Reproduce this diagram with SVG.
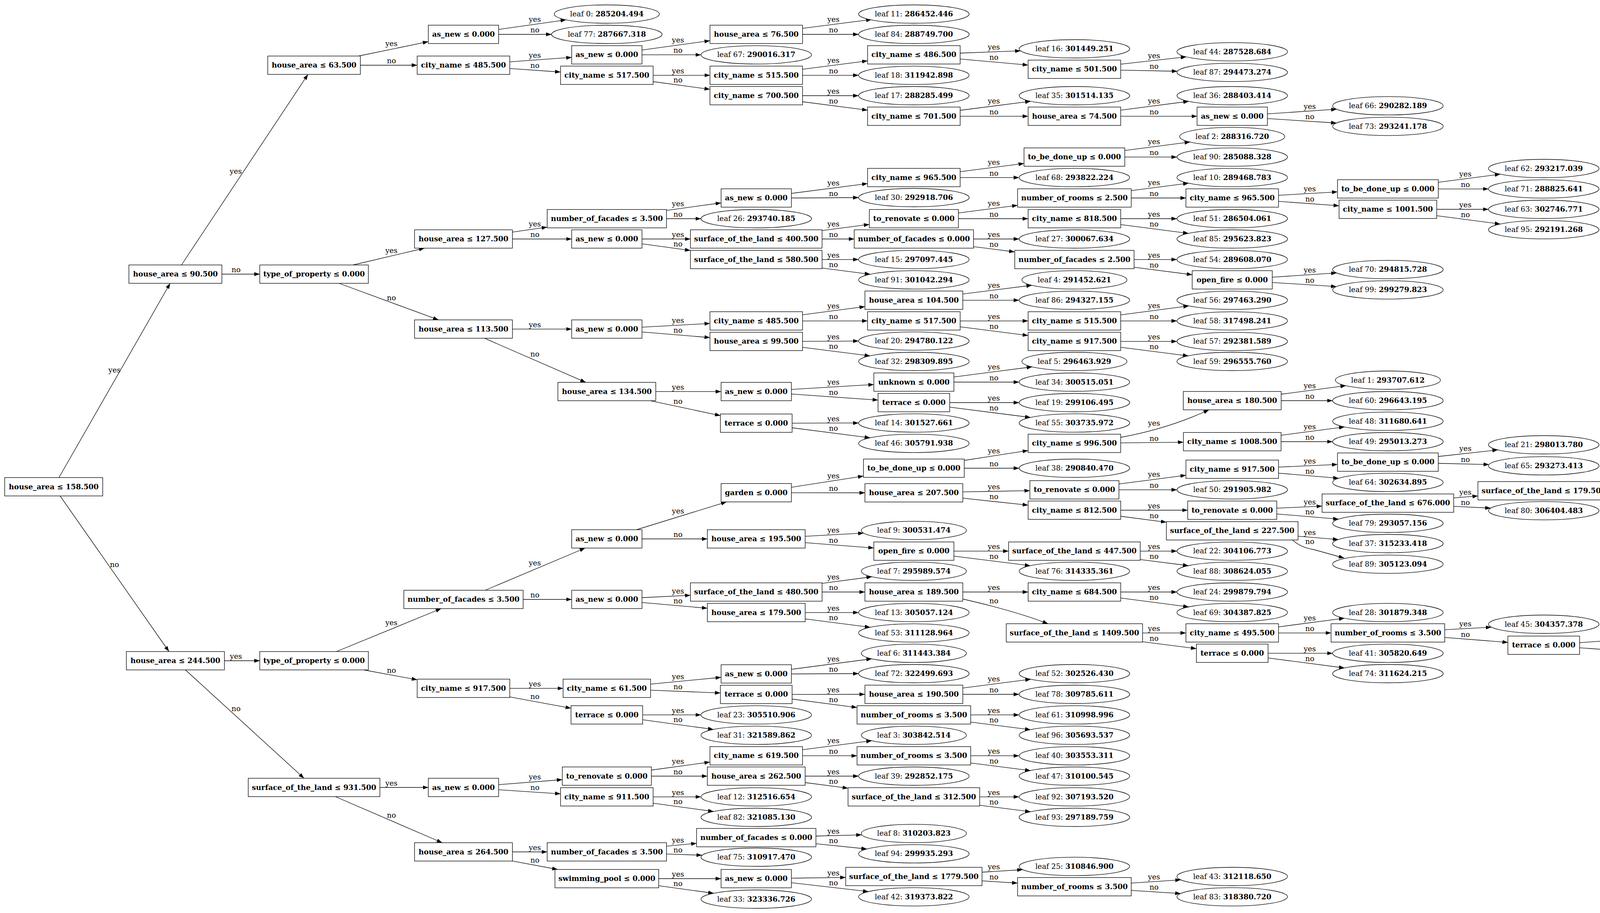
<svg xmlns="http://www.w3.org/2000/svg" width="4478" height="2338" viewBox="0 0 4478 2338">
<style>
.bx rect,.lf ellipse{fill:#fff;stroke:#000;stroke-width:1.33}
.bx text,.lf text,#edge-labels text{text-anchor:middle;font-family:"DejaVu Serif","Liberation Serif",serif;font-size:18.67px}
.bx text{font-weight:bold}
.lf tspan{font-weight:bold}
#edges path{fill:none;stroke:#000;stroke-width:1.33;marker-end:url(#ah)}
</style>
<defs>
<marker id="ah" markerUnits="userSpaceOnUse" markerWidth="14" markerHeight="10" viewBox="0 0 14 10" refX="14" refY="5" orient="auto"><path d="M0,0L14,5L0,10z" fill="#000"/></marker>
</defs>
<rect width="4478" height="2338" fill="#fff"/>
<g id="edges">
<path d="M150.9 1223L435.6 725.5"/>
<path d="M153.9 1270L432.6 1668.5"/>
<path d="M464.6 678.5L788.4 190.5"/>
<path d="M568 702L665 702"/>
<path d="M574.5 1692L665 1692"/>
<path d="M474.7 1715.5L778.3 1993"/>
<path d="M917.8 143.5L1096.5 106.6"/>
<path d="M922.5 167L1068 167"/>
<path d="M1276.5 75.3L1449 50.8"/>
<path d="M1276.5 88L1412 88"/>
<path d="M1305 158.4L1463.5 146.9"/>
<path d="M1305 175.3L1435 184.5"/>
<path d="M1643.5 128.1L1817.5 104.2"/>
<path d="M1643.5 140.4L1794.5 140.4"/>
<path d="M1672 192.8L1817.5 192.8"/>
<path d="M1672 209L1817.5 228.8"/>
<path d="M2054.5 72.7L2231.3 49.9"/>
<path d="M2054.5 88L2198 88"/>
<path d="M2054.5 177.4L2221 155.8"/>
<path d="M2054.5 192.8L2198 192.8"/>
<path d="M2054.5 245L2198 245"/>
<path d="M2054.5 260.5L2221 282.2"/>
<path d="M2458 136L2612.5 130.2"/>
<path d="M2458 151.1L2632 166.7"/>
<path d="M2458 282.5L2638.5 259.4"/>
<path d="M2458 297.7L2632 297.7"/>
<path d="M2869 164.3L3036.8 145.7"/>
<path d="M2869 179.7L3014 182.5"/>
<path d="M2869 282.2L3043.2 259.5"/>
<path d="M2869 297.7L3064.5 297.7"/>
<path d="M3244.5 291.6L3421.9 279.7"/>
<path d="M3244.5 303.6L3421.4 315"/>
<path d="M903.9 678.5L1086.6 635.5"/>
<path d="M867.9 725.5L1122.6 819.2"/>
<path d="M1311.8 594.3L1400.8 581.6"/>
<path d="M1311.8 612L1463.5 612"/>
<path d="M1706.3 538.8L1846 519.5"/>
<path d="M1706.3 560L1794.5 560"/>
<path d="M1643.5 612L1767.5 612"/>
<path d="M1643.5 624.4L1767.5 641.4"/>
<path d="M2026 495.3L2221 470.1"/>
<path d="M2026 507L2198 506"/>
<path d="M2458 439.6L2621.5 418.7"/>
<path d="M2458 454.7L2609 454.7"/>
<path d="M2879.5 385.4L3046.6 363.7"/>
<path d="M2879.5 402.2L3013 402.2"/>
<path d="M2104.5 590.3L2225.5 574.7"/>
<path d="M2104.5 612L2186.8 612"/>
<path d="M2453.5 545.3L2605 525.8"/>
<path d="M2453.5 560L2632 560"/>
<path d="M2896 488.2L3042.9 469.2"/>
<path d="M2896 507L3036 507"/>
<path d="M3273 500.1L3424 491.3"/>
<path d="M3273 515.6L3428 526.9"/>
<path d="M3682 466.9L3840.9 446.1"/>
<path d="M3682 483.8L3810.5 483.8"/>
<path d="M3678 536L3810.5 536"/>
<path d="M3678 552.4L3840.8 573.7"/>
<path d="M2869 560L3013 560"/>
<path d="M2869 575.2L3042.6 597.6"/>
<path d="M2492.3 612L2609 612"/>
<path d="M2492.3 631.6L2597.3 645"/>
<path d="M2903.3 664.6L3013 664.6"/>
<path d="M2903.3 684.3L3052 703.5"/>
<path d="M3257 709.9L3421.8 698.9"/>
<path d="M3257 723.3L3421.4 733.9"/>
<path d="M2104.5 664.6L2198 664.6"/>
<path d="M2104.5 686.4L2227.7 702.3"/>
<path d="M1311.8 842.7L1463.5 842.7"/>
<path d="M1240.4 866.2L1499.6 979.2"/>
<path d="M1643.5 837.8L1817.5 828.3"/>
<path d="M1643.5 850.1L1817.5 864.5"/>
<path d="M2054.5 806.2L2214.3 785.2"/>
<path d="M2054.5 821.8L2221 821.8"/>
<path d="M2464.8 752.9L2641.7 730.5"/>
<path d="M2464.8 768.8L2609 768.8"/>
<path d="M2458 821.8L2632 821.8"/>
<path d="M2458 836.9L2632 859.2"/>
<path d="M2869 806.3L3043.5 783.4"/>
<path d="M2869 821.8L3013 821.8"/>
<path d="M2869 874.3L3013 874.3"/>
<path d="M2869 889.3L3042.2 911.3"/>
<path d="M2054.5 874.2L2198 873.3"/>
<path d="M2054.5 889.3L2227.3 911.3"/>
<path d="M1678.8 1002.7L1846 1002.7"/>
<path d="M1664.5 1026.2L1844.3 1064.3"/>
<path d="M2026 997.3L2237 984.7"/>
<path d="M2026 1009L2247.8 1024.6"/>
<path d="M2442 965.3L2642.3 939.5"/>
<path d="M2442 978.5L2609 978.5"/>
<path d="M2431.3 1031L2609 1031"/>
<path d="M2431.3 1042.7L2638.3 1069"/>
<path d="M2027.8 1083.7L2198 1083.2"/>
<path d="M2027.8 1095.5L2227.5 1121.1"/>
<path d="M861.2 1668.5L1129.3 1558.5"/>
<path d="M931.2 1715.5L1068 1740.8"/>
<path d="M1242.1 1511.5L1497.9 1403.5"/>
<path d="M1339.3 1535L1463.5 1535"/>
<path d="M1629.5 1356.5L1860 1285.3"/>
<path d="M1643.5 1380L1810.8 1380"/>
<path d="M2026 1247.8L2210.5 1219.1"/>
<path d="M2026 1261.8L2214.3 1262"/>
<path d="M2468.5 1179L2632 1153.7"/>
<path d="M2468.5 1199L2609 1199"/>
<path d="M2869 1120Q2990 1098 3095 1049.5"/>
<path d="M2869 1134.1L3029.5 1132.4"/>
<path d="M3279.8 1009.5L3445.6 987.6"/>
<path d="M3279.8 1026L3411.5 1026"/>
<path d="M3279.5 1114.6L3442 1093.3"/>
<path d="M3279.5 1131L3411.5 1131"/>
<path d="M2464.8 1259.7L2636.5 1256.4"/>
<path d="M2464.8 1275.6L2632 1293.7"/>
<path d="M2864.5 1239.4L3036 1217.1"/>
<path d="M2864.5 1254.3L3013 1254.3"/>
<path d="M3273 1196.2L3424 1189.3"/>
<path d="M3273 1211.6L3427 1224.7"/>
<path d="M3682 1169L3834.5 1152.1"/>
<path d="M3682 1186.5L3812 1189.6"/>
<path d="M2869 1306.5L3040.5 1306.5"/>
<path d="M2869 1322L2986 1337.3"/>
<path d="M3268.5 1301.3L3384.5 1296.1"/>
<path d="M3268.5 1316.1L3426.8 1329.4"/>
<path d="M3721.5 1275.1L3783.5 1270.1"/>
<path d="M3721.5 1296.6L3816.2 1301.2"/>
<path d="M4120.5 1244.9L4194.4 1239.6"/>
<path d="M4120.5 1268.7L4194.4 1274"/>
<path d="M3323 1373.1L3426.2 1381.6"/>
<path d="M3309 1383Q3330 1402 3362 1407L3441 1429"/>
<path d="M2061.3 1373.3L2211 1365.2"/>
<path d="M2061.3 1389.7L2237 1403.3"/>
<path d="M2442 1411.3L2582 1411.3"/>
<path d="M2442 1424.1L2637.7 1448.7"/>
<path d="M2919 1411.3L3013 1411.3"/>
<path d="M2919 1432.8L3042.4 1448.5"/>
<path d="M1643.5 1530.5L1767.5 1524.4"/>
<path d="M1643.5 1542.9L1810.8 1557.6"/>
<path d="M2104.5 1493.8L2232.1 1477"/>
<path d="M2104.5 1516L2214.3 1516"/>
<path d="M2464.8 1516L2632 1516"/>
<path d="M2465 1534Q2600 1565 2683 1597.3"/>
<path d="M2869 1516L3013 1516"/>
<path d="M2869 1531.4L3043.1 1554.1"/>
<path d="M2925 1620.8L3036 1620.8"/>
<path d="M2925 1643.3L3062.8 1661.1"/>
<path d="M3273 1605.3L3441.9 1583.2"/>
<path d="M3273 1620.8L3407.5 1620.8"/>
<path d="M3698.5 1612.7L3817.9 1606"/>
<path d="M3698.5 1632.3L3860.3 1645.1"/>
<path d="M4043.8 1645.8L4194.4 1635"/>
<path d="M4043.8 1658.8L4194.4 1669.6"/>
<path d="M3246.3 1672.9L3411.5 1672.9"/>
<path d="M3246.3 1684.9L3441.8 1710.5"/>
<path d="M2061.3 1568.6L2198 1568.6"/>
<path d="M2061.3 1584.8L2227.9 1606.4"/>
<path d="M1305 1762.7L1441.5 1762.7"/>
<path d="M1305 1784.7L1461.8 1813.7"/>
<path d="M1665.5 1751.9L1846 1734.5"/>
<path d="M1665.5 1767.3L1844.3 1774.6"/>
<path d="M2026 1714L2231.9 1687"/>
<path d="M2026 1725.8L2198 1725"/>
<path d="M2027.8 1778.3L2214.3 1778"/>
<path d="M2027.8 1790.2L2194 1811.8"/>
<path d="M2464.8 1761.8L2638.8 1739.4"/>
<path d="M2464.8 1778L2609 1778"/>
<path d="M2485 1830.7L2609 1830.7"/>
<path d="M2485 1849.1L2638.2 1868.6"/>
<path d="M1645.3 1830.7L1794.5 1830.7"/>
<path d="M1645.3 1843.2L1826.6 1867.9"/>
<path d="M972.5 2016.5L1096.5 2016.5"/>
<path d="M858.5 2040L1132 2158"/>
<path d="M1276.5 2009.4L1439.5 1996.5"/>
<path d="M1276.5 2022.4L1435 2032.8"/>
<path d="M1667.5 1972L1817.5 1951.5"/>
<path d="M1667.5 1987.5L1810.8 1987.5"/>
<path d="M2054.5 1919.9L2231.7 1896.9"/>
<path d="M2054.5 1935.4L2194 1935.4"/>
<path d="M2485 1935.4L2609 1935.4"/>
<path d="M2485 1953.8L2638.2 1973.3"/>
<path d="M2061.3 1987.5L2198 1987.5"/>
<path d="M2061.3 2004L2171 2018.4"/>
<path d="M2508 2040.6L2609 2040.6"/>
<path d="M2508 2062.1L2638.4 2078.7"/>
<path d="M1672 2040.6L1794.5 2040.6"/>
<path d="M1672 2056.8L1826.8 2078"/>
<path d="M1311.8 2181.5L1400.8 2181.5"/>
<path d="M1311.8 2204.9L1427.6 2226.5"/>
<path d="M1706.3 2166.9L1783.3 2159.6"/>
<path d="M1706.3 2186.9L1797 2190.1"/>
<path d="M2088.8 2141L2205.9 2137.8"/>
<path d="M2088.8 2160.7L2219.1 2174"/>
<path d="M1686.4 2250L1846 2250"/>
<path d="M1686.4 2268.2L1827 2287.5"/>
<path d="M2026 2248.8L2165 2246.9"/>
<path d="M2026 2260.4L2223.3 2283.2"/>
<path d="M2514 2233.5L2618.1 2227"/>
<path d="M2514 2255.7L2605 2261.5"/>
<path d="M2896 2261.3L3022.7 2253.1"/>
<path d="M2896 2280.1L3022.4 2288.2"/>
</g>
<g id="edge-labels">
<text x="293" y="954">yes</text>
<text x="293" y="1451.6">no</text>
<text x="603.6" y="445">yes</text>
<text x="604.3" y="697">no</text>
<text x="604" y="1687">yes</text>
<text x="604.3" y="1820.5">no</text>
<text x="1002" y="118.4">yes</text>
<text x="1002" y="162">no</text>
<text x="1369.3" y="55.7">yes</text>
<text x="1369.3" y="83">no</text>
<text x="1369.3" y="148">yes</text>
<text x="1369.3" y="174.2">no</text>
<text x="1735.7" y="109">yes</text>
<text x="1735.7" y="135.4">no</text>
<text x="1735.7" y="187.8">yes</text>
<text x="1735.7" y="211.3">no</text>
<text x="2133.6" y="56.2">yes</text>
<text x="2133.6" y="83">no</text>
<text x="2133.6" y="160.8">yes</text>
<text x="2133.6" y="187.8">no</text>
<text x="2133.6" y="240">yes</text>
<text x="2133.6" y="264.5">no</text>
<text x="2544.3" y="127.3">yes</text>
<text x="2544.3" y="152.9">no</text>
<text x="2544.3" y="265.1">yes</text>
<text x="2544.3" y="292.7">no</text>
<text x="2954.3" y="148.7">yes</text>
<text x="2954.3" y="176.2">no</text>
<text x="2954.3" y="264.8">yes</text>
<text x="2954.3" y="292.7">no</text>
<text x="3353" y="278.6">yes</text>
<text x="3353" y="305">no</text>
<text x="1002.1" y="647.7">yes</text>
<text x="1002.1" y="768.6">no</text>
<text x="1369.3" y="579.7">yes</text>
<text x="1369.3" y="607">no</text>
<text x="1735.7" y="528.3">yes</text>
<text x="1735.7" y="555">no</text>
<text x="1735.7" y="607">yes</text>
<text x="1735.7" y="630.7">no</text>
<text x="2133.6" y="475.1">yes</text>
<text x="2133.6" y="501.5">no</text>
<text x="2544.3" y="422.2">yes</text>
<text x="2544.3" y="449.7">no</text>
<text x="2954.3" y="369.4">yes</text>
<text x="2954.3" y="397.2">no</text>
<text x="2133.6" y="580.2">yes</text>
<text x="2133.6" y="607">no</text>
<text x="2544.3" y="527.3">yes</text>
<text x="2544.3" y="555">no</text>
<text x="2954.3" y="474.3">yes</text>
<text x="2954.3" y="502">no</text>
<text x="3353" y="489.8">yes</text>
<text x="3353" y="515.8">no</text>
<text x="3751.4" y="451.5">yes</text>
<text x="3751.4" y="478.8">no</text>
<text x="3751.4" y="531">yes</text>
<text x="3751.4" y="555.7">no</text>
<text x="2954.3" y="555">yes</text>
<text x="2954.3" y="579.9">no</text>
<text x="2544.3" y="607">yes</text>
<text x="2544.3" y="631.9">no</text>
<text x="2954.3" y="659.6">yes</text>
<text x="2954.3" y="684.6">no</text>
<text x="3353" y="697.8">yes</text>
<text x="3353" y="723.8">no</text>
<text x="2133.6" y="659.6">yes</text>
<text x="2133.6" y="683.8">no</text>
<text x="1369.3" y="837.7">yes</text>
<text x="1369.3" y="913.3">no</text>
<text x="1735.7" y="827.2">yes</text>
<text x="1735.7" y="851.9">no</text>
<text x="2133.6" y="789.6">yes</text>
<text x="2133.6" y="816.8">no</text>
<text x="2544.3" y="736.5">yes</text>
<text x="2544.3" y="763.8">no</text>
<text x="2544.3" y="816.8">yes</text>
<text x="2544.3" y="841.7">no</text>
<text x="2954.3" y="788.7">yes</text>
<text x="2954.3" y="816.8">no</text>
<text x="2954.3" y="869.3">yes</text>
<text x="2954.3" y="893.8">no</text>
<text x="2133.6" y="868.8">yes</text>
<text x="2133.6" y="893.1">no</text>
<text x="1735.7" y="997.7">yes</text>
<text x="1735.7" y="1034.2">no</text>
<text x="2133.6" y="985.2">yes</text>
<text x="2133.6" y="1010.9">no</text>
<text x="2544.3" y="945.8">yes</text>
<text x="2544.3" y="973.5">no</text>
<text x="2544.3" y="1026">yes</text>
<text x="2544.3" y="1050.7">no</text>
<text x="2133.6" y="1078.5">yes</text>
<text x="2133.6" y="1102.7">no</text>
<text x="1002.1" y="1600.7">yes</text>
<text x="1002.1" y="1722.8">no</text>
<text x="1369.3" y="1448">yes</text>
<text x="1369.3" y="1530">no</text>
<text x="1735.7" y="1315.3">yes</text>
<text x="1735.7" y="1375">no</text>
<text x="2133.6" y="1224.5">yes</text>
<text x="2133.6" y="1257">no</text>
<text x="2544.3" y="1160.8">yes</text>
<text x="2544.3" y="1194">no</text>
<text x="2954.3" y="1090">yes</text>
<text x="2954.3" y="1129">no</text>
<text x="3353" y="993.6">yes</text>
<text x="3353" y="1021">no</text>
<text x="3353" y="1098.7">yes</text>
<text x="3353" y="1126">no</text>
<text x="2544.3" y="1252.9">yes</text>
<text x="2544.3" y="1278.1">no</text>
<text x="2954.3" y="1221.4">yes</text>
<text x="2954.3" y="1249.3">no</text>
<text x="3353" y="1187">yes</text>
<text x="3353" y="1212.6">no</text>
<text x="3751.4" y="1155.2">yes</text>
<text x="3751.4" y="1182.9">no</text>
<text x="2954.3" y="1301.5">yes</text>
<text x="2954.3" y="1326.8">no</text>
<text x="3353" y="1292">yes</text>
<text x="3353" y="1317.4">no</text>
<text x="3751.4" y="1266.9">yes</text>
<text x="3751.4" y="1292.5">no</text>
<text x="4150.7" y="1237">yes</text>
<text x="4150.7" y="1265.2">no</text>
<text x="3353" y="1369.8">yes</text>
<text x="3353" y="1393">no</text>
<text x="2133.6" y="1363.9">yes</text>
<text x="2133.6" y="1389.5">no</text>
<text x="2544.3" y="1406.3">yes</text>
<text x="2544.3" y="1430.7">no</text>
<text x="2954.3" y="1406.3">yes</text>
<text x="2954.3" y="1431">no</text>
<text x="1735.7" y="1520.4">yes</text>
<text x="1735.7" y="1545.1">no</text>
<text x="2133.6" y="1483.7">yes</text>
<text x="2133.6" y="1511">no</text>
<text x="2544.3" y="1511">yes</text>
<text x="2544.3" y="1545">no</text>
<text x="2954.3" y="1511">yes</text>
<text x="2954.3" y="1536.2">no</text>
<text x="2954.3" y="1615.8">yes</text>
<text x="2954.3" y="1640.8">no</text>
<text x="3353" y="1588.5">yes</text>
<text x="3353" y="1615.8">no</text>
<text x="3751.4" y="1604.1">yes</text>
<text x="3751.4" y="1630.7">no</text>
<text x="4150.7" y="1632.5">yes</text>
<text x="4150.7" y="1660.7">no</text>
<text x="3353" y="1667.9">yes</text>
<text x="3353" y="1692.6">no</text>
<text x="2133.6" y="1563.6">yes</text>
<text x="2133.6" y="1587.9">no</text>
<text x="1369.3" y="1757.7">yes</text>
<text x="1369.3" y="1789.7">no</text>
<text x="1735.7" y="1739.1">yes</text>
<text x="1735.7" y="1764.7">no</text>
<text x="2133.6" y="1693.6">yes</text>
<text x="2133.6" y="1720.4">no</text>
<text x="2133.6" y="1773">yes</text>
<text x="2133.6" y="1797.7">no</text>
<text x="2544.3" y="1745.3">yes</text>
<text x="2544.3" y="1773">no</text>
<text x="2544.3" y="1825.7">yes</text>
<text x="2544.3" y="1850.4">no</text>
<text x="1735.7" y="1825.7">yes</text>
<text x="1735.7" y="1849.1">no</text>
<text x="1002" y="2011.6">yes</text>
<text x="1002.1" y="2093.9">no</text>
<text x="1369.3" y="1996.3">yes</text>
<text x="1369.3" y="2022.8">no</text>
<text x="1735.7" y="1956.3">yes</text>
<text x="1735.7" y="1982.5">no</text>
<text x="2133.6" y="1903.3">yes</text>
<text x="2133.6" y="1930.4">no</text>
<text x="2544.3" y="1930.4">yes</text>
<text x="2544.3" y="1955.1">no</text>
<text x="2133.6" y="1982.5">yes</text>
<text x="2133.6" y="2007.2">no</text>
<text x="2544.3" y="2035.6">yes</text>
<text x="2544.3" y="2060.4">no</text>
<text x="1735.7" y="2035.6">yes</text>
<text x="1735.7" y="2059.2">no</text>
<text x="1369.3" y="2176.5">yes</text>
<text x="1369.3" y="2208.7">no</text>
<text x="1735.7" y="2158.1">yes</text>
<text x="1735.7" y="2182.5">no</text>
<text x="2133.6" y="2134.5">yes</text>
<text x="2133.6" y="2159.3">no</text>
<text x="1735.7" y="2245">yes</text>
<text x="1735.7" y="2268.6">no</text>
<text x="2133.6" y="2242">yes</text>
<text x="2133.6" y="2266.6">no</text>
<text x="2544.3" y="2226">yes</text>
<text x="2544.3" y="2251.9">no</text>
<text x="2954.3" y="2251.8">yes</text>
<text x="2954.3" y="2278.2">no</text>
</g>
<g id="n0" class="bx" transform="translate(137.5 1246.5)"><rect x="-125.5" y="-23.5" width="251" height="47"/><text y="6">house_area ≤ 158.500</text></g>
<g id="n1" class="bx" transform="translate(449 702)"><rect x="-119" y="-23.5" width="238" height="47"/><text y="6">house_area ≤ 90.500</text></g>
<g id="n2" class="bx" transform="translate(449 1692)"><rect x="-125.5" y="-23.5" width="251" height="47"/><text y="6">house_area ≤ 244.500</text></g>
<g id="n3" class="bx" transform="translate(804 167)"><rect x="-118.5" y="-23.5" width="237" height="47"/><text y="6">house_area ≤ 63.500</text></g>
<g id="n4" class="bx" transform="translate(804 702)"><rect x="-139" y="-23.5" width="278" height="47"/><text y="6">type_of_property ≤ 0.000</text></g>
<g id="n5" class="bx" transform="translate(804 1692)"><rect x="-139" y="-23.5" width="278" height="47"/><text y="6">type_of_property ≤ 0.000</text></g>
<g id="n6" class="bx" transform="translate(804 2016.5)"><rect x="-168.5" y="-23.5" width="337" height="47"/><text y="6">surface_of_the_land ≤ 931.500</text></g>
<g id="n7" class="bx" transform="translate(1186.5 88)"><rect x="-90" y="-23.5" width="180" height="47"/><text y="6">as_new ≤ 0.000</text></g>
<g id="n8" class="bx" transform="translate(1186.5 167)"><rect x="-118.5" y="-23.5" width="237" height="47"/><text y="6">city_name ≤ 485.500</text></g>
<g id="n9" class="bx" transform="translate(1186.5 612)"><rect x="-125.25" y="-23.5" width="250.5" height="47"/><text y="6">house_area ≤ 127.500</text></g>
<g id="n10" class="bx" transform="translate(1186.5 842.7)"><rect x="-125.25" y="-23.5" width="250.5" height="47"/><text y="6">house_area ≤ 113.500</text></g>
<g id="n11" class="bx" transform="translate(1186.5 1535)"><rect x="-152.75" y="-23.5" width="305.5" height="47"/><text y="6">number_of_facades ≤ 3.500</text></g>
<g id="n12" class="bx" transform="translate(1186.5 1762.7)"><rect x="-118.5" y="-23.5" width="237" height="47"/><text y="6">city_name ≤ 917.500</text></g>
<g id="n13" class="bx" transform="translate(1186.5 2016.5)"><rect x="-90" y="-23.5" width="180" height="47"/><text y="6">as_new ≤ 0.000</text></g>
<g id="n14" class="bx" transform="translate(1186.5 2181.5)"><rect x="-125.25" y="-23.5" width="250.5" height="47"/><text y="6">house_area ≤ 264.500</text></g>
<g id="n15" class="bx" transform="translate(1553.5 140.4)"><rect x="-90" y="-23.5" width="180" height="47"/><text y="6">as_new ≤ 0.000</text></g>
<g id="n16" class="bx" transform="translate(1553.5 192.8)"><rect x="-118.5" y="-23.5" width="237" height="47"/><text y="6">city_name ≤ 517.500</text></g>
<g id="n17" class="bx" transform="translate(1553.5 560)"><rect x="-152.75" y="-23.5" width="305.5" height="47"/><text y="6">number_of_facades ≤ 3.500</text></g>
<g id="n18" class="bx" transform="translate(1553.5 612)"><rect x="-90" y="-23.5" width="180" height="47"/><text y="6">as_new ≤ 0.000</text></g>
<g id="n19" class="bx" transform="translate(1553.5 842.7)"><rect x="-90" y="-23.5" width="180" height="47"/><text y="6">as_new ≤ 0.000</text></g>
<g id="n20" class="bx" transform="translate(1553.5 1002.7)"><rect x="-125.25" y="-23.5" width="250.5" height="47"/><text y="6">house_area ≤ 134.500</text></g>
<g id="n21" class="bx" transform="translate(1553.5 1380)"><rect x="-90" y="-23.5" width="180" height="47"/><text y="6">as_new ≤ 0.000</text></g>
<g id="n22" class="bx" transform="translate(1553.5 1535)"><rect x="-90" y="-23.5" width="180" height="47"/><text y="6">as_new ≤ 0.000</text></g>
<g id="n23" class="bx" transform="translate(1553.5 1762.7)"><rect x="-112" y="-23.5" width="224" height="47"/><text y="6">city_name ≤ 61.500</text></g>
<g id="n24" class="bx" transform="translate(1553.5 1830.7)"><rect x="-91.75" y="-23.5" width="183.5" height="47"/><text y="6">terrace ≤ 0.000</text></g>
<g id="n25" class="bx" transform="translate(1553.5 1987.5)"><rect x="-114" y="-23.5" width="228" height="47"/><text y="6">to_renovate ≤ 0.000</text></g>
<g id="n26" class="bx" transform="translate(1553.5 2040.6)"><rect x="-118.5" y="-23.5" width="237" height="47"/><text y="6">city_name ≤ 911.500</text></g>
<g id="n27" class="bx" transform="translate(1553.5 2181.5)"><rect x="-152.75" y="-23.5" width="305.5" height="47"/><text y="6">number_of_facades ≤ 3.500</text></g>
<g id="n28" class="bx" transform="translate(1553.5 2250)"><rect x="-132.85" y="-23.5" width="265.7" height="47"/><text y="6">swimming_pool ≤ 0.000</text></g>
<g id="n29" class="bx" transform="translate(1936 88)"><rect x="-118.5" y="-23.5" width="237" height="47"/><text y="6">house_area ≤ 76.500</text></g>
<g id="n30" class="bx" transform="translate(1936 192.8)"><rect x="-118.5" y="-23.5" width="237" height="47"/><text y="6">city_name ≤ 515.500</text></g>
<g id="n31" class="bx" transform="translate(1936 245)"><rect x="-118.5" y="-23.5" width="237" height="47"/><text y="6">city_name ≤ 700.500</text></g>
<g id="n32" class="bx" transform="translate(1936 507)"><rect x="-90" y="-23.5" width="180" height="47"/><text y="6">as_new ≤ 0.000</text></g>
<g id="n33" class="bx" transform="translate(1936 612)"><rect x="-168.5" y="-23.5" width="337" height="47"/><text y="6">surface_of_the_land ≤ 400.500</text></g>
<g id="n34" class="bx" transform="translate(1936 664.6)"><rect x="-168.5" y="-23.5" width="337" height="47"/><text y="6">surface_of_the_land ≤ 580.500</text></g>
<g id="n35" class="bx" transform="translate(1936 821.8)"><rect x="-118.5" y="-23.5" width="237" height="47"/><text y="6">city_name ≤ 485.500</text></g>
<g id="n36" class="bx" transform="translate(1936 874.3)"><rect x="-118.5" y="-23.5" width="237" height="47"/><text y="6">house_area ≤ 99.500</text></g>
<g id="n37" class="bx" transform="translate(1936 1002.7)"><rect x="-90" y="-23.5" width="180" height="47"/><text y="6">as_new ≤ 0.000</text></g>
<g id="n38" class="bx" transform="translate(1936 1083.7)"><rect x="-91.75" y="-23.5" width="183.5" height="47"/><text y="6">terrace ≤ 0.000</text></g>
<g id="n39" class="bx" transform="translate(1936 1261.8)"><rect x="-90" y="-23.5" width="180" height="47"/><text y="6">garden ≤ 0.000</text></g>
<g id="n40" class="bx" transform="translate(1936 1380)"><rect x="-125.25" y="-23.5" width="250.5" height="47"/><text y="6">house_area ≤ 195.500</text></g>
<g id="n41" class="bx" transform="translate(1936 1516)"><rect x="-168.5" y="-23.5" width="337" height="47"/><text y="6">surface_of_the_land ≤ 480.500</text></g>
<g id="n42" class="bx" transform="translate(1936 1568.6)"><rect x="-125.25" y="-23.5" width="250.5" height="47"/><text y="6">house_area ≤ 179.500</text></g>
<g id="n43" class="bx" transform="translate(1936 1725.8)"><rect x="-90" y="-23.5" width="180" height="47"/><text y="6">as_new ≤ 0.000</text></g>
<g id="n44" class="bx" transform="translate(1936 1778.3)"><rect x="-91.75" y="-23.5" width="183.5" height="47"/><text y="6">terrace ≤ 0.000</text></g>
<g id="n45" class="bx" transform="translate(1936 1935.4)"><rect x="-118.5" y="-23.5" width="237" height="47"/><text y="6">city_name ≤ 619.500</text></g>
<g id="n46" class="bx" transform="translate(1936 1987.5)"><rect x="-125.25" y="-23.5" width="250.5" height="47"/><text y="6">house_area ≤ 262.500</text></g>
<g id="n47" class="bx" transform="translate(1936 2145)"><rect x="-152.75" y="-23.5" width="305.5" height="47"/><text y="6">number_of_facades ≤ 0.000</text></g>
<g id="n48" class="bx" transform="translate(1936 2250)"><rect x="-90" y="-23.5" width="180" height="47"/><text y="6">as_new ≤ 0.000</text></g>
<g id="n49" class="bx" transform="translate(2339.5 140.4)"><rect x="-118.5" y="-23.5" width="237" height="47"/><text y="6">city_name ≤ 486.500</text></g>
<g id="n50" class="bx" transform="translate(2339.5 297.7)"><rect x="-118.5" y="-23.5" width="237" height="47"/><text y="6">city_name ≤ 701.500</text></g>
<g id="n51" class="bx" transform="translate(2339.5 454.7)"><rect x="-118.5" y="-23.5" width="237" height="47"/><text y="6">city_name ≤ 965.500</text></g>
<g id="n52" class="bx" transform="translate(2339.5 560)"><rect x="-114" y="-23.5" width="228" height="47"/><text y="6">to_renovate ≤ 0.000</text></g>
<g id="n53" class="bx" transform="translate(2339.5 612)"><rect x="-152.75" y="-23.5" width="305.5" height="47"/><text y="6">number_of_facades ≤ 0.000</text></g>
<g id="n54" class="bx" transform="translate(2339.5 768.8)"><rect x="-125.25" y="-23.5" width="250.5" height="47"/><text y="6">house_area ≤ 104.500</text></g>
<g id="n55" class="bx" transform="translate(2339.5 821.8)"><rect x="-118.5" y="-23.5" width="237" height="47"/><text y="6">city_name ≤ 517.500</text></g>
<g id="n56" class="bx" transform="translate(2339.5 978.5)"><rect x="-102.5" y="-23.5" width="205" height="47"/><text y="6">unknown ≤ 0.000</text></g>
<g id="n57" class="bx" transform="translate(2339.5 1031)"><rect x="-91.75" y="-23.5" width="183.5" height="47"/><text y="6">terrace ≤ 0.000</text></g>
<g id="n58" class="bx" transform="translate(2339.5 1199)"><rect x="-129" y="-23.5" width="258" height="47"/><text y="6">to_be_done_up ≤ 0.000</text></g>
<g id="n59" class="bx" transform="translate(2339.5 1262)"><rect x="-125.25" y="-23.5" width="250.5" height="47"/><text y="6">house_area ≤ 207.500</text></g>
<g id="n60" class="bx" transform="translate(2339.5 1411.3)"><rect x="-102.5" y="-23.5" width="205" height="47"/><text y="6">open_fire ≤ 0.000</text></g>
<g id="n61" class="bx" transform="translate(2339.5 1516)"><rect x="-125.25" y="-23.5" width="250.5" height="47"/><text y="6">house_area ≤ 189.500</text></g>
<g id="n62" class="bx" transform="translate(2339.5 1778)"><rect x="-125.25" y="-23.5" width="250.5" height="47"/><text y="6">house_area ≤ 190.500</text></g>
<g id="n63" class="bx" transform="translate(2339.5 1830.7)"><rect x="-145.5" y="-23.5" width="291" height="47"/><text y="6">number_of_rooms ≤ 3.500</text></g>
<g id="n64" class="bx" transform="translate(2339.5 1935.4)"><rect x="-145.5" y="-23.5" width="291" height="47"/><text y="6">number_of_rooms ≤ 3.500</text></g>
<g id="n65" class="bx" transform="translate(2339.5 2040.6)"><rect x="-168.5" y="-23.5" width="337" height="47"/><text y="6">surface_of_the_land ≤ 312.500</text></g>
<g id="n66" class="bx" transform="translate(2339.5 2244.5)"><rect x="-174.5" y="-23.5" width="349" height="47"/><text y="6">surface_of_the_land ≤ 1779.500</text></g>
<g id="n67" class="bx" transform="translate(2750.5 177.4)"><rect x="-118.5" y="-23.5" width="237" height="47"/><text y="6">city_name ≤ 501.500</text></g>
<g id="n68" class="bx" transform="translate(2750.5 297.7)"><rect x="-118.5" y="-23.5" width="237" height="47"/><text y="6">house_area ≤ 74.500</text></g>
<g id="n69" class="bx" transform="translate(2750.5 402.2)"><rect x="-129" y="-23.5" width="258" height="47"/><text y="6">to_be_done_up ≤ 0.000</text></g>
<g id="n70" class="bx" transform="translate(2750.5 507)"><rect x="-145.5" y="-23.5" width="291" height="47"/><text y="6">number_of_rooms ≤ 2.500</text></g>
<g id="n71" class="bx" transform="translate(2750.5 560)"><rect x="-118.5" y="-23.5" width="237" height="47"/><text y="6">city_name ≤ 818.500</text></g>
<g id="n72" class="bx" transform="translate(2750.5 664.6)"><rect x="-152.75" y="-23.5" width="305.5" height="47"/><text y="6">number_of_facades ≤ 2.500</text></g>
<g id="n73" class="bx" transform="translate(2750.5 821.8)"><rect x="-118.5" y="-23.5" width="237" height="47"/><text y="6">city_name ≤ 515.500</text></g>
<g id="n74" class="bx" transform="translate(2750.5 874.3)"><rect x="-118.5" y="-23.5" width="237" height="47"/><text y="6">city_name ≤ 917.500</text></g>
<g id="n75" class="bx" transform="translate(2750.5 1135.4)"><rect x="-118.5" y="-23.5" width="237" height="47"/><text y="6">city_name ≤ 996.500</text></g>
<g id="n76" class="bx" transform="translate(2750.5 1254.3)"><rect x="-114" y="-23.5" width="228" height="47"/><text y="6">to_renovate ≤ 0.000</text></g>
<g id="n77" class="bx" transform="translate(2750.5 1306.5)"><rect x="-118.5" y="-23.5" width="237" height="47"/><text y="6">city_name ≤ 812.500</text></g>
<g id="n78" class="bx" transform="translate(2750.5 1411.3)"><rect x="-168.5" y="-23.5" width="337" height="47"/><text y="6">surface_of_the_land ≤ 447.500</text></g>
<g id="n79" class="bx" transform="translate(2750.5 1516)"><rect x="-118.5" y="-23.5" width="237" height="47"/><text y="6">city_name ≤ 684.500</text></g>
<g id="n80" class="bx" transform="translate(2750.5 1620.8)"><rect x="-174.5" y="-23.5" width="349" height="47"/><text y="6">surface_of_the_land ≤ 1409.500</text></g>
<g id="n81" class="bx" transform="translate(2750.5 2270.8)"><rect x="-145.5" y="-23.5" width="291" height="47"/><text y="6">number_of_rooms ≤ 3.500</text></g>
<g id="n82" class="bx" transform="translate(3154.5 297.7)"><rect x="-90" y="-23.5" width="180" height="47"/><text y="6">as_new ≤ 0.000</text></g>
<g id="n83" class="bx" transform="translate(3154.5 507)"><rect x="-118.5" y="-23.5" width="237" height="47"/><text y="6">city_name ≤ 965.500</text></g>
<g id="n84" class="bx" transform="translate(3154.5 716.7)"><rect x="-102.5" y="-23.5" width="205" height="47"/><text y="6">open_fire ≤ 0.000</text></g>
<g id="n85" class="bx" transform="translate(3154.5 1026)"><rect x="-125.25" y="-23.5" width="250.5" height="47"/><text y="6">house_area ≤ 180.500</text></g>
<g id="n86" class="bx" transform="translate(3154.5 1131)"><rect x="-125" y="-23.5" width="250" height="47"/><text y="6">city_name ≤ 1008.500</text></g>
<g id="n87" class="bx" transform="translate(3154.5 1201.6)"><rect x="-118.5" y="-23.5" width="237" height="47"/><text y="6">city_name ≤ 917.500</text></g>
<g id="n88" class="bx" transform="translate(3154.5 1306.5)"><rect x="-114" y="-23.5" width="228" height="47"/><text y="6">to_renovate ≤ 0.000</text></g>
<g id="n89" class="bx" transform="translate(3154.5 1359.3)"><rect x="-168.5" y="-23.5" width="337" height="47"/><text y="6">surface_of_the_land ≤ 227.500</text></g>
<g id="n90" class="bx" transform="translate(3154.5 1620.8)"><rect x="-118.5" y="-23.5" width="237" height="47"/><text y="6">city_name ≤ 495.500</text></g>
<g id="n91" class="bx" transform="translate(3154.5 1672.9)"><rect x="-91.75" y="-23.5" width="183.5" height="47"/><text y="6">terrace ≤ 0.000</text></g>
<g id="n92" class="bx" transform="translate(3553 483.8)"><rect x="-129" y="-23.5" width="258" height="47"/><text y="6">to_be_done_up ≤ 0.000</text></g>
<g id="n93" class="bx" transform="translate(3553 536)"><rect x="-125" y="-23.5" width="250" height="47"/><text y="6">city_name ≤ 1001.500</text></g>
<g id="n94" class="bx" transform="translate(3553 1183.4)"><rect x="-129" y="-23.5" width="258" height="47"/><text y="6">to_be_done_up ≤ 0.000</text></g>
<g id="n95" class="bx" transform="translate(3553 1288.4)"><rect x="-168.5" y="-23.5" width="337" height="47"/><text y="6">surface_of_the_land ≤ 676.000</text></g>
<g id="n96" class="bx" transform="translate(3553 1620.8)"><rect x="-145.5" y="-23.5" width="291" height="47"/><text y="6">number_of_rooms ≤ 3.500</text></g>
<g id="n97" class="bx" transform="translate(3952 1256.8)"><rect x="-168.5" y="-23.5" width="337" height="47"/><text y="6">surface_of_the_land ≤ 179.500</text></g>
<g id="n98" class="bx" transform="translate(3952 1652.3)"><rect x="-91.75" y="-23.5" width="183.5" height="47"/><text y="6">terrace ≤ 0.000</text></g>
<g id="leaf0" class="lf" transform="translate(1553.5 36)"><ellipse rx="134.5" ry="23.5"/><text y="6">leaf 0: <tspan>285204.494</tspan></text></g>
<g id="leaf77" class="lf" transform="translate(1553.5 88)"><ellipse rx="141.5" ry="23.5"/><text y="6">leaf 77: <tspan>287667.318</tspan></text></g>
<g id="leaf67" class="lf" transform="translate(1936 140.4)"><ellipse rx="141.5" ry="23.5"/><text y="6">leaf 67: <tspan>290016.317</tspan></text></g>
<g id="leaf26" class="lf" transform="translate(1936 560)"><ellipse rx="141.5" ry="23.5"/><text y="6">leaf 26: <tspan>293740.185</tspan></text></g>
<g id="leaf23" class="lf" transform="translate(1936 1830.7)"><ellipse rx="141.5" ry="23.5"/><text y="6">leaf 23: <tspan>305510.906</tspan></text></g>
<g id="leaf31" class="lf" transform="translate(1936 1882.8)"><ellipse rx="141.5" ry="23.5"/><text y="6">leaf 31: <tspan>321589.862</tspan></text></g>
<g id="leaf12" class="lf" transform="translate(1936 2040.6)"><ellipse rx="141.5" ry="23.5"/><text y="6">leaf 12: <tspan>312516.654</tspan></text></g>
<g id="leaf82" class="lf" transform="translate(1936 2093)"><ellipse rx="141.5" ry="23.5"/><text y="6">leaf 82: <tspan>321085.130</tspan></text></g>
<g id="leaf75" class="lf" transform="translate(1936 2195)"><ellipse rx="141.5" ry="23.5"/><text y="6">leaf 75: <tspan>310917.470</tspan></text></g>
<g id="leaf33" class="lf" transform="translate(1936 2302.5)"><ellipse rx="141.5" ry="23.5"/><text y="6">leaf 33: <tspan>323336.726</tspan></text></g>
<g id="leaf11" class="lf" transform="translate(2339.5 36)"><ellipse rx="141.5" ry="23.5"/><text y="6">leaf 11: <tspan>286452.446</tspan></text></g>
<g id="leaf84" class="lf" transform="translate(2339.5 88)"><ellipse rx="141.5" ry="23.5"/><text y="6">leaf 84: <tspan>288749.700</tspan></text></g>
<g id="leaf18" class="lf" transform="translate(2339.5 192.8)"><ellipse rx="141.5" ry="23.5"/><text y="6">leaf 18: <tspan>311942.898</tspan></text></g>
<g id="leaf17" class="lf" transform="translate(2339.5 245)"><ellipse rx="141.5" ry="23.5"/><text y="6">leaf 17: <tspan>288285.499</tspan></text></g>
<g id="leaf30" class="lf" transform="translate(2339.5 506)"><ellipse rx="141.5" ry="23.5"/><text y="6">leaf 30: <tspan>292918.706</tspan></text></g>
<g id="leaf15" class="lf" transform="translate(2339.5 664.6)"><ellipse rx="141.5" ry="23.5"/><text y="6">leaf 15: <tspan>297097.445</tspan></text></g>
<g id="leaf91" class="lf" transform="translate(2339.5 716.7)"><ellipse rx="141.5" ry="23.5"/><text y="6">leaf 91: <tspan>301042.294</tspan></text></g>
<g id="leaf20" class="lf" transform="translate(2339.5 873.3)"><ellipse rx="141.5" ry="23.5"/><text y="6">leaf 20: <tspan>294780.122</tspan></text></g>
<g id="leaf32" class="lf" transform="translate(2339.5 925.5)"><ellipse rx="141.5" ry="23.5"/><text y="6">leaf 32: <tspan>298309.895</tspan></text></g>
<g id="leaf14" class="lf" transform="translate(2339.5 1083.2)"><ellipse rx="141.5" ry="23.5"/><text y="6">leaf 14: <tspan>301527.661</tspan></text></g>
<g id="leaf46" class="lf" transform="translate(2339.5 1135.4)"><ellipse rx="141.5" ry="23.5"/><text y="6">leaf 46: <tspan>305791.938</tspan></text></g>
<g id="leaf9" class="lf" transform="translate(2339.5 1358.3)"><ellipse rx="134.5" ry="23.5"/><text y="6">leaf 9: <tspan>300531.474</tspan></text></g>
<g id="leaf7" class="lf" transform="translate(2339.5 1462.8)"><ellipse rx="134.5" ry="23.5"/><text y="6">leaf 7: <tspan>295989.574</tspan></text></g>
<g id="leaf13" class="lf" transform="translate(2339.5 1568.6)"><ellipse rx="141.5" ry="23.5"/><text y="6">leaf 13: <tspan>305057.124</tspan></text></g>
<g id="leaf53" class="lf" transform="translate(2339.5 1620.8)"><ellipse rx="141.5" ry="23.5"/><text y="6">leaf 53: <tspan>311128.964</tspan></text></g>
<g id="leaf6" class="lf" transform="translate(2339.5 1672.9)"><ellipse rx="134.5" ry="23.5"/><text y="6">leaf 6: <tspan>311443.384</tspan></text></g>
<g id="leaf72" class="lf" transform="translate(2339.5 1725)"><ellipse rx="141.5" ry="23.5"/><text y="6">leaf 72: <tspan>322499.693</tspan></text></g>
<g id="leaf3" class="lf" transform="translate(2339.5 1882.8)"><ellipse rx="134.5" ry="23.5"/><text y="6">leaf 3: <tspan>303842.514</tspan></text></g>
<g id="leaf39" class="lf" transform="translate(2339.5 1987.5)"><ellipse rx="141.5" ry="23.5"/><text y="6">leaf 39: <tspan>292852.175</tspan></text></g>
<g id="leaf8" class="lf" transform="translate(2339.5 2134.3)"><ellipse rx="134.5" ry="23.5"/><text y="6">leaf 8: <tspan>310203.823</tspan></text></g>
<g id="leaf94" class="lf" transform="translate(2339.5 2186.4)"><ellipse rx="141.5" ry="23.5"/><text y="6">leaf 94: <tspan>299935.293</tspan></text></g>
<g id="leaf42" class="lf" transform="translate(2339.5 2296.6)"><ellipse rx="141.5" ry="23.5"/><text y="6">leaf 42: <tspan>319373.822</tspan></text></g>
<g id="leaf16" class="lf" transform="translate(2750.5 125)"><ellipse rx="141.5" ry="23.5"/><text y="6">leaf 16: <tspan>301449.251</tspan></text></g>
<g id="leaf35" class="lf" transform="translate(2750.5 245)"><ellipse rx="141.5" ry="23.5"/><text y="6">leaf 35: <tspan>301514.135</tspan></text></g>
<g id="leaf68" class="lf" transform="translate(2750.5 454.7)"><ellipse rx="141.5" ry="23.5"/><text y="6">leaf 68: <tspan>293822.224</tspan></text></g>
<g id="leaf27" class="lf" transform="translate(2750.5 612)"><ellipse rx="141.5" ry="23.5"/><text y="6">leaf 27: <tspan>300067.634</tspan></text></g>
<g id="leaf4" class="lf" transform="translate(2750.5 716.7)"><ellipse rx="134.5" ry="23.5"/><text y="6">leaf 4: <tspan>291452.621</tspan></text></g>
<g id="leaf86" class="lf" transform="translate(2750.5 768.8)"><ellipse rx="141.5" ry="23.5"/><text y="6">leaf 86: <tspan>294327.155</tspan></text></g>
<g id="leaf5" class="lf" transform="translate(2750.5 925.5)"><ellipse rx="134.5" ry="23.5"/><text y="6">leaf 5: <tspan>296463.929</tspan></text></g>
<g id="leaf34" class="lf" transform="translate(2750.5 978.5)"><ellipse rx="141.5" ry="23.5"/><text y="6">leaf 34: <tspan>300515.051</tspan></text></g>
<g id="leaf19" class="lf" transform="translate(2750.5 1031)"><ellipse rx="141.5" ry="23.5"/><text y="6">leaf 19: <tspan>299106.495</tspan></text></g>
<g id="leaf55" class="lf" transform="translate(2750.5 1083.2)"><ellipse rx="141.5" ry="23.5"/><text y="6">leaf 55: <tspan>303735.972</tspan></text></g>
<g id="leaf38" class="lf" transform="translate(2750.5 1199)"><ellipse rx="141.5" ry="23.5"/><text y="6">leaf 38: <tspan>290840.470</tspan></text></g>
<g id="leaf76" class="lf" transform="translate(2750.5 1462.8)"><ellipse rx="141.5" ry="23.5"/><text y="6">leaf 76: <tspan>314335.361</tspan></text></g>
<g id="leaf52" class="lf" transform="translate(2750.5 1725)"><ellipse rx="141.5" ry="23.5"/><text y="6">leaf 52: <tspan>302526.430</tspan></text></g>
<g id="leaf78" class="lf" transform="translate(2750.5 1778)"><ellipse rx="141.5" ry="23.5"/><text y="6">leaf 78: <tspan>309785.611</tspan></text></g>
<g id="leaf61" class="lf" transform="translate(2750.5 1830.7)"><ellipse rx="141.5" ry="23.5"/><text y="6">leaf 61: <tspan>310998.996</tspan></text></g>
<g id="leaf96" class="lf" transform="translate(2750.5 1882.8)"><ellipse rx="141.5" ry="23.5"/><text y="6">leaf 96: <tspan>305693.537</tspan></text></g>
<g id="leaf40" class="lf" transform="translate(2750.5 1935.4)"><ellipse rx="141.5" ry="23.5"/><text y="6">leaf 40: <tspan>303553.311</tspan></text></g>
<g id="leaf47" class="lf" transform="translate(2750.5 1987.5)"><ellipse rx="141.5" ry="23.5"/><text y="6">leaf 47: <tspan>310100.545</tspan></text></g>
<g id="leaf92" class="lf" transform="translate(2750.5 2040.6)"><ellipse rx="141.5" ry="23.5"/><text y="6">leaf 92: <tspan>307193.520</tspan></text></g>
<g id="leaf93" class="lf" transform="translate(2750.5 2093)"><ellipse rx="141.5" ry="23.5"/><text y="6">leaf 93: <tspan>297189.759</tspan></text></g>
<g id="leaf25" class="lf" transform="translate(2750.5 2218.7)"><ellipse rx="141.5" ry="23.5"/><text y="6">leaf 25: <tspan>310846.900</tspan></text></g>
<g id="leaf44" class="lf" transform="translate(3154.5 132.6)"><ellipse rx="141.5" ry="23.5"/><text y="6">leaf 44: <tspan>287528.684</tspan></text></g>
<g id="leaf87" class="lf" transform="translate(3154.5 185.3)"><ellipse rx="141.5" ry="23.5"/><text y="6">leaf 87: <tspan>294473.274</tspan></text></g>
<g id="leaf36" class="lf" transform="translate(3154.5 245)"><ellipse rx="141.5" ry="23.5"/><text y="6">leaf 36: <tspan>288403.414</tspan></text></g>
<g id="leaf2" class="lf" transform="translate(3154.5 349.7)"><ellipse rx="134.5" ry="23.5"/><text y="6">leaf 2: <tspan>288316.720</tspan></text></g>
<g id="leaf90" class="lf" transform="translate(3154.5 402.2)"><ellipse rx="141.5" ry="23.5"/><text y="6">leaf 90: <tspan>285088.328</tspan></text></g>
<g id="leaf10" class="lf" transform="translate(3154.5 454.7)"><ellipse rx="141.5" ry="23.5"/><text y="6">leaf 10: <tspan>289468.783</tspan></text></g>
<g id="leaf51" class="lf" transform="translate(3154.5 560)"><ellipse rx="141.5" ry="23.5"/><text y="6">leaf 51: <tspan>286504.061</tspan></text></g>
<g id="leaf85" class="lf" transform="translate(3154.5 612)"><ellipse rx="141.5" ry="23.5"/><text y="6">leaf 85: <tspan>295623.823</tspan></text></g>
<g id="leaf54" class="lf" transform="translate(3154.5 664.6)"><ellipse rx="141.5" ry="23.5"/><text y="6">leaf 54: <tspan>289608.070</tspan></text></g>
<g id="leaf56" class="lf" transform="translate(3154.5 768.8)"><ellipse rx="141.5" ry="23.5"/><text y="6">leaf 56: <tspan>297463.290</tspan></text></g>
<g id="leaf58" class="lf" transform="translate(3154.5 821.8)"><ellipse rx="141.5" ry="23.5"/><text y="6">leaf 58: <tspan>317498.241</tspan></text></g>
<g id="leaf57" class="lf" transform="translate(3154.5 874.3)"><ellipse rx="141.5" ry="23.5"/><text y="6">leaf 57: <tspan>292381.589</tspan></text></g>
<g id="leaf59" class="lf" transform="translate(3154.5 925.5)"><ellipse rx="141.5" ry="23.5"/><text y="6">leaf 59: <tspan>296555.760</tspan></text></g>
<g id="leaf50" class="lf" transform="translate(3154.5 1254.3)"><ellipse rx="141.5" ry="23.5"/><text y="6">leaf 50: <tspan>291905.982</tspan></text></g>
<g id="leaf22" class="lf" transform="translate(3154.5 1411.3)"><ellipse rx="141.5" ry="23.5"/><text y="6">leaf 22: <tspan>304106.773</tspan></text></g>
<g id="leaf88" class="lf" transform="translate(3154.5 1462.8)"><ellipse rx="141.5" ry="23.5"/><text y="6">leaf 88: <tspan>308624.055</tspan></text></g>
<g id="leaf24" class="lf" transform="translate(3154.5 1516)"><ellipse rx="141.5" ry="23.5"/><text y="6">leaf 24: <tspan>299879.794</tspan></text></g>
<g id="leaf69" class="lf" transform="translate(3154.5 1568.6)"><ellipse rx="141.5" ry="23.5"/><text y="6">leaf 69: <tspan>304387.825</tspan></text></g>
<g id="leaf43" class="lf" transform="translate(3154.5 2244.5)"><ellipse rx="141.5" ry="23.5"/><text y="6">leaf 43: <tspan>312118.650</tspan></text></g>
<g id="leaf83" class="lf" transform="translate(3154.5 2296.6)"><ellipse rx="141.5" ry="23.5"/><text y="6">leaf 83: <tspan>318380.720</tspan></text></g>
<g id="leaf66" class="lf" transform="translate(3553 270.9)"><ellipse rx="141.5" ry="23.5"/><text y="6">leaf 66: <tspan>290282.189</tspan></text></g>
<g id="leaf73" class="lf" transform="translate(3553 323.6)"><ellipse rx="141.5" ry="23.5"/><text y="6">leaf 73: <tspan>293241.178</tspan></text></g>
<g id="leaf70" class="lf" transform="translate(3553 690.2)"><ellipse rx="141.5" ry="23.5"/><text y="6">leaf 70: <tspan>294815.728</tspan></text></g>
<g id="leaf99" class="lf" transform="translate(3553 742.4)"><ellipse rx="141.5" ry="23.5"/><text y="6">leaf 99: <tspan>299279.823</tspan></text></g>
<g id="leaf1" class="lf" transform="translate(3553 973.5)"><ellipse rx="134.5" ry="23.5"/><text y="6">leaf 1: <tspan>293707.612</tspan></text></g>
<g id="leaf60" class="lf" transform="translate(3553 1026)"><ellipse rx="141.5" ry="23.5"/><text y="6">leaf 60: <tspan>296643.195</tspan></text></g>
<g id="leaf48" class="lf" transform="translate(3553 1078.7)"><ellipse rx="141.5" ry="23.5"/><text y="6">leaf 48: <tspan>311680.641</tspan></text></g>
<g id="leaf49" class="lf" transform="translate(3553 1131)"><ellipse rx="141.5" ry="23.5"/><text y="6">leaf 49: <tspan>295013.273</tspan></text></g>
<g id="leaf64" class="lf" transform="translate(3553 1235.4)"><ellipse rx="141.5" ry="23.5"/><text y="6">leaf 64: <tspan>302634.895</tspan></text></g>
<g id="leaf79" class="lf" transform="translate(3553 1340)"><ellipse rx="141.5" ry="23.5"/><text y="6">leaf 79: <tspan>293057.156</tspan></text></g>
<g id="leaf37" class="lf" transform="translate(3553 1392)"><ellipse rx="141.5" ry="23.5"/><text y="6">leaf 37: <tspan>315233.418</tspan></text></g>
<g id="leaf89" class="lf" transform="translate(3553 1444.8)"><ellipse rx="141.5" ry="23.5"/><text y="6">leaf 89: <tspan>305123.094</tspan></text></g>
<g id="leaf28" class="lf" transform="translate(3553 1568.6)"><ellipse rx="141.5" ry="23.5"/><text y="6">leaf 28: <tspan>301879.348</tspan></text></g>
<g id="leaf41" class="lf" transform="translate(3553 1672.9)"><ellipse rx="141.5" ry="23.5"/><text y="6">leaf 41: <tspan>305820.649</tspan></text></g>
<g id="leaf74" class="lf" transform="translate(3553 1725)"><ellipse rx="141.5" ry="23.5"/><text y="6">leaf 74: <tspan>311624.215</tspan></text></g>
<g id="leaf62" class="lf" transform="translate(3952 431.5)"><ellipse rx="141.5" ry="23.5"/><text y="6">leaf 62: <tspan>293217.039</tspan></text></g>
<g id="leaf71" class="lf" transform="translate(3952 483.8)"><ellipse rx="141.5" ry="23.5"/><text y="6">leaf 71: <tspan>288825.641</tspan></text></g>
<g id="leaf63" class="lf" transform="translate(3952 536)"><ellipse rx="141.5" ry="23.5"/><text y="6">leaf 63: <tspan>302746.771</tspan></text></g>
<g id="leaf95" class="lf" transform="translate(3952 588.2)"><ellipse rx="141.5" ry="23.5"/><text y="6">leaf 95: <tspan>292191.268</tspan></text></g>
<g id="leaf21" class="lf" transform="translate(3952 1139)"><ellipse rx="141.5" ry="23.5"/><text y="6">leaf 21: <tspan>298013.780</tspan></text></g>
<g id="leaf65" class="lf" transform="translate(3952 1192.9)"><ellipse rx="141.5" ry="23.5"/><text y="6">leaf 65: <tspan>293273.413</tspan></text></g>
<g id="leaf80" class="lf" transform="translate(3952 1307.8)"><ellipse rx="141.5" ry="23.5"/><text y="6">leaf 80: <tspan>306404.483</tspan></text></g>
<g id="leaf45" class="lf" transform="translate(3952 1598.5)"><ellipse rx="141.5" ry="23.5"/><text y="6">leaf 45: <tspan>304357.378</tspan></text></g>
<g id="leaf29" class="lf" transform="translate(4324.5 1230.4)"><ellipse rx="141.5" ry="23.5"/><text y="6">leaf 29: <tspan>306214.612</tspan></text></g>
<g id="leaf81" class="lf" transform="translate(4324.5 1283.2)"><ellipse rx="141.5" ry="23.5"/><text y="6">leaf 81: <tspan>297683.729</tspan></text></g>
<g id="leaf97" class="lf" transform="translate(4324.5 1625.8)"><ellipse rx="141.5" ry="23.5"/><text y="6">leaf 97: <tspan>305552.630</tspan></text></g>
<g id="leaf98" class="lf" transform="translate(4324.5 1678.8)"><ellipse rx="141.5" ry="23.5"/><text y="6">leaf 98: <tspan>312618.596</tspan></text></g>
</svg>
